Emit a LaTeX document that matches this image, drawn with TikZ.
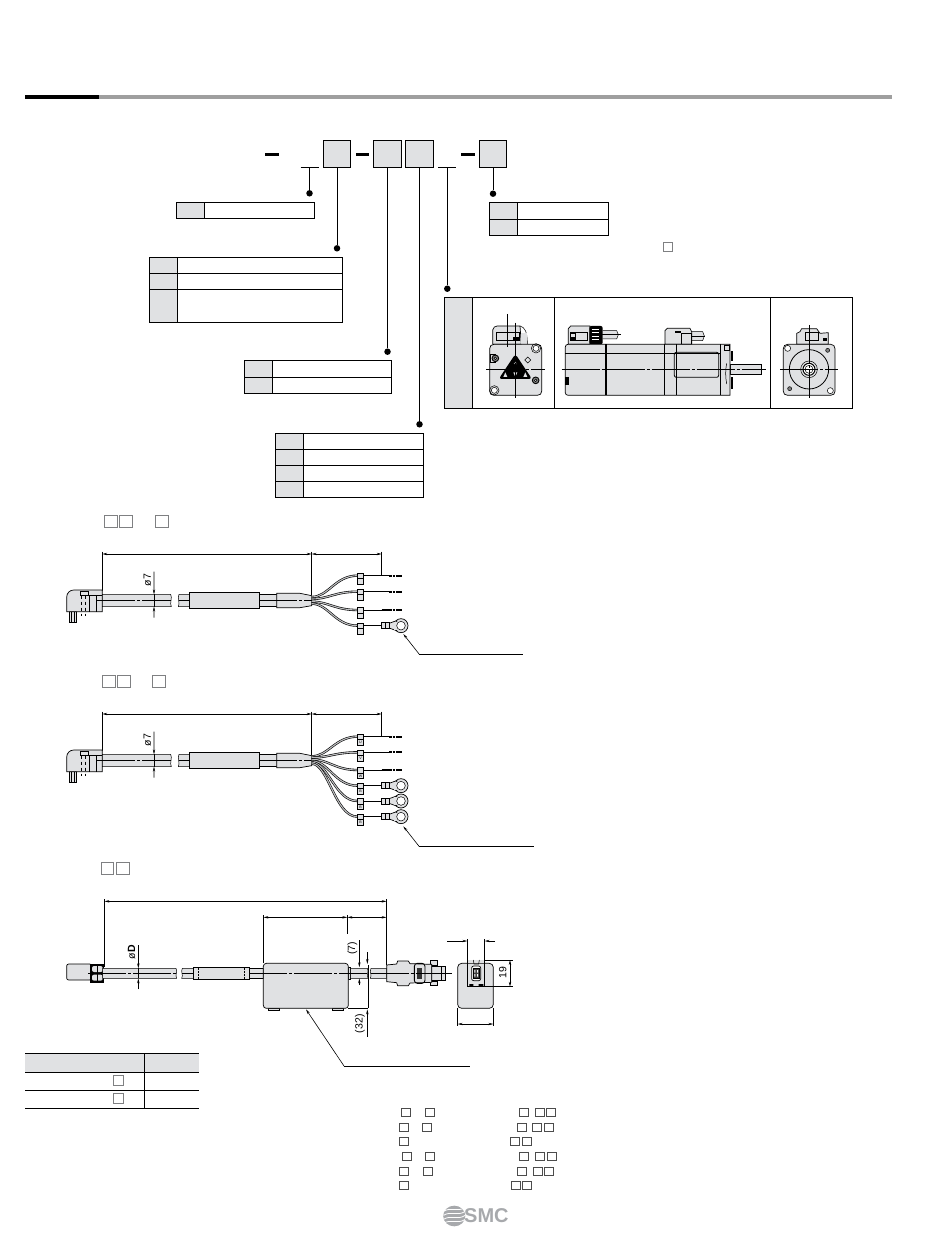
\documentclass[tikz,border=0pt]{standalone}
\usepackage{fontspec}
\setmainfont{Liberation Sans}
\usetikzlibrary{arrows.meta,positioning}
\definecolor{cellgray}{HTML}{E0E1E3}
\definecolor{boxgray}{HTML}{7F8082}
\definecolor{logogray}{HTML}{A7A9AC}
\tikzset{
  codebox/.style={draw,fill=cellgray,line width=.9pt,minimum size=27.5pt,inner sep=0pt,outer sep=0pt},
  dotnode/.style={circle,fill=black,minimum size=6.5pt,inner sep=0pt},
  stem/.style={line width=.9pt},
  rowline/.style={line width=.9pt},
  part/.style={fill=cellgray,draw,line width=.7pt},
  thinp/.style={line width=.5pt},
  centerl/.style={line width=.55pt,dash pattern=on 38pt off 2pt on 3pt off 2pt},
  dimline/.style={line width=.6pt,{Stealth[length=5pt,width=2.4pt]}-{Stealth[length=5pt,width=2.4pt]}},
  dimto/.style={line width=.6pt,-{Stealth[length=5pt,width=2.4pt]}},
  wirep/.style={draw=black,line width=.6pt,double=cellgray!85!black,double distance=1.1pt},
  tailp/.style={draw=black,line width=.9pt},
  openbox/.style={draw=boxgray,fill=white,line width=.7pt},
  dimtext/.style={font=\fontsize{10.5}{10.5}\selectfont,inner sep=0pt},
  taglabel/.style={font=\fontsize{3.6}{3.6}\selectfont,inner sep=0pt},
}
% table: left, column, right, list of row lines
\newcommand{\spectable}[4]{
  \foreach \r [count=\i] in {#4}{
    \ifnum\i=1 \xdef\ftop{\r}\fi
    \xdef\fbot{\r}
  }
  \fill[cellgray] (#1,\ftop) rectangle (#2,\fbot);
  \draw[rowline] (#1,\ftop) rectangle (#3,\fbot);
  \draw[rowline] (#2,\ftop) -- (#2,\fbot);
  \foreach \r in {#4} \draw[rowline] (#1,\r) -- (#3,\r);
}
\newcommand{\opensq}[3][9]{\draw[openbox] (#2,#3) rectangle ++(#1,#1);}
% cable with tag on a wire, coordinates of the 3x crops
\newcommand{\wiretag}[3]{
  \draw[wirep] (815,#1) .. controls (865,#1) and (885,#2) .. (952,#2);
  \draw[tailp] (970,#2) -- (1025,#2);
  \draw[part,thinp] (952,#2-7) rectangle (971,#2+26);
  \draw[thinp] (952,#2+9) -- (971,#2+9);
  \node[taglabel] (tag#2) at (961.5,#2+18) {#3};
}
\newcommand{\pinend}[1]{
  \draw[line width=1.3pt] (1025,#1) -- (1048,#1);
  \draw[line width=1.7pt,dash pattern=on 2.6pt off .7pt] (1048,#1) -- (1085,#1);
}
\newcommand{\ringend}[1]{
  \draw[part] (1083,#1) circle (21);
  \draw[part] (1047,#1-7) -- (1070,#1-15) -- (1070,#1+15) -- (1047,#1+7) -- cycle;
  \fill[cellgray] (1062,#1-12) rectangle (1076,#1+12);
  \draw[fill=white,thinp] (1083,#1) circle (13);
  \draw[part,thinp] (1025,#1-9) rectangle (1047,#1+9);
  \draw[thinp] (1036,#1-9) -- (1036,#1+9);
}
\newcommand{\leadcable}{
  \coordinate (ea) at (187,147);
  \coordinate (eb) at (815,147);
  \coordinate (ec) at (1025,147);
  \draw[dimline] (ea) -- (eb);
  \draw[dimline] (eb) -- (ec);
  \draw[thinp] (187,140) -- (187,258);
  \draw[thinp] (815,140) -- (815,270);
  \draw[thinp] (1025,140) -- (1025,212);
  % motor side plug
  \draw[part,thinp] (87,320) rectangle (110,352);
  \draw[thinp] (95,320) -- (95,352) (102,320) -- (102,352);
  \draw[part] (80,320) -- (80,277) .. controls (80,263) and (90,255) .. (102,255) -- (187,255) -- (187,320) -- cycle;
  \draw[thinp] (147,272) -- (147,320) (170,272) -- (170,320) (120,272) -- (187,272);
  \draw[thinp,dashed] (125,272) -- (125,332) (137,272) -- (137,332);
  \draw[part,thinp] (122,258) rectangle (146,272);
  % lead
  \draw[part,thinp] (187,268) -- (392,268) .. controls (398,278) and (388,295) .. (394,305) -- (187,305) -- cycle;
  \draw[part,thinp] (450,268) -- (417,268) .. controls (411,278) and (421,295) .. (415,305) -- (450,305) -- cycle;
  \draw[part,thinp] (658,268) rectangle (712,305);
  \draw[part] (448,262) rectangle (658,311);
  \draw[part] (710,265) -- (780,265) -- (815,272) -- (815,302) -- (780,308) -- (710,308) -- cycle;
  \draw[centerl] (172,287) -- (392,287) (417,287) -- (447,287) (658,287) -- (815,287);
  % phi 7
  \coordinate (da) at (342,268);
  \coordinate (db) at (342,305);
  \draw[dimto] (342,200) -- (da);
  \draw[dimto] (342,338) -- (db);
  \draw[thinp] (342,268) -- (342,305);
  \node[dimtext,rotate=90] (phiseven) at (322,225) {ø7};
}
\begin{document}
\begin{tikzpicture}[x=1pt,y=-1pt]
\useasboundingbox (0,0) rectangle (950,1241);
% title rule
\fill[black] (25,95) rectangle (99,99);
\fill[gray!75] (99,95) rectangle (892,99);
% model code
\node[codebox] (boxa) at (337,153.8) {};
\node[codebox] (boxb) at (387.5,153.8) {};
\node[codebox] (boxc) at (419.5,153.8) {};
\node[codebox] (boxd) at (493,153.8) {};
\foreach \xa/\xb in {265/278.7,355.7/369.3,461/475}
  \fill[black] (\xa,153) rectangle (\xb,155.8);
\coordinate (unda) at (309.5,167.3);
\coordinate (undb) at (447.3,167.3);
\draw[stem] (300.7,167.3) -- (319,167.3);
\draw[stem] (438,167.3) -- (456,167.3);
\node[dotnode] (dotu) at (309.5,193.3) {};
\node[dotnode] (dota) at (337,248.3) {};
\node[dotnode] (dotb) at (387.5,351.7) {};
\node[dotnode] (dotc) at (419.5,424.3) {};
\node[dotnode] (dotv) at (447.3,288.7) {};
\node[dotnode] (dotd) at (493,193.7) {};
\draw[stem] (unda) -- (dotu);
\draw[stem] (undb) -- (dotv);
\draw[stem] (boxa) -- (dota);
\draw[stem] (boxb) -- (dotb);
\draw[stem] (boxc) -- (dotc);
\draw[stem] (boxd) -- (dotd);
% option tables
\spectable{176.7}{204.3}{314.7}{202.3,218.3}
\spectable{149.3}{177.3}{342.3}{257.3,273.3,289.3,322.3}
\spectable{244.3}{272.3}{391.3}{360.3,377.3,393.3}
\spectable{275.3}{303.3}{423.3}{433.3,449.3,465.3,481.3,497.3}
\spectable{489.3}{517.3}{608.3}{202.3,219.3,235.3}
\opensq{663.3}{242.3}
% motor table
\fill[cellgray] (444.3,297.7) rectangle (472.7,408.3);
\draw[rowline] (444.3,297.7) rectangle (852.3,408.3);
\foreach \x in {472.7,554.3,770.3} \draw[rowline] (\x,297.7) -- (\x,408.3);
\begin{scope}[shift={(440,230)},scale=1/3]
  % rear view
  \draw[thinp] (240,288) .. controls (255,292) and (262,305) .. (262,343);
  \draw[part] (158,343) -- (158,300) .. controls (160,292) and (165,288) .. (172,288) -- (240,288) -- (244,343) -- cycle;
  \fill[cellgray] (244,310) rectangle (261,342);
  \draw[thinp] (168,308) rectangle (238,332);
  \fill[black] (220,322) rectangle (236,332);
  \draw[part] (149,356) .. controls (149,348) and (154,343) .. (162,343) -- (292,343) .. controls (300,343) and (305,348) .. (305,356) -- (305,484) .. controls (305,491) and (300,496) .. (292,496) -- (162,496) .. controls (154,496) and (149,491) .. (149,484) -- cycle;
  \fill[black,rounded corners=3pt] (226,372) -- (276,447) -- (176,447) -- cycle;
  \foreach \p in {(196,441),(256,441)}
    \fill[cellgray] \p ++(-6,0) -- ++(12,0) -- ++(-6,-14) -- cycle;
  \fill[cellgray] (226,427) ++(-6,0) -- ++(12,0) -- ++(-6,14) -- cycle;
  \draw[fill=cellgray,line width=.5pt] (226,400) circle (5);
  \draw[thinp] (263,381) -- ++(9,9) -- ++(-9,9) -- ++(-9,-9) -- cycle;
  \draw[thinp] (150,372) rectangle (166,398);
  \foreach \p in {(166,385),(287,451)} {
    \draw[line width=.9pt,fill=gray] \p circle (10);
    \draw[thinp,fill=cellgray] \p circle (4);
  }
  \foreach \p in {(288,355),(163,481)} {
    \draw[thinp,fill=white] \p circle (9);
    \draw[thinp] \p circle (14);
  }
  \draw[centerl] (138,418) -- (315,418);
  \draw[centerl] (226,278) -- (226,505);
  \draw[centerl] (202,252) -- (202,352);
  % side view
  \draw[part,thinp] (488,302) -- (530,302) -- (535,314) -- (530,327) -- (488,327);
  \draw[centerl] (470,314) -- (542,314);
  \draw[part] (385,343) -- (385,296) -- (392,288) -- (450,288) -- (450,343) -- cycle;
  \fill[black,rounded corners=2pt] (448,288) rectangle (488,343);
  \foreach \y in {298,308,318,328} \draw[white,thinp] (455,\y) -- (478,\y);
  \draw[thinp] (392,308) rectangle (442,332);
  \draw[thinp] (392,310) rectangle (406,330);
  \fill[black] (393,322) rectangle (405,330);
  \draw[part,thinp] (755,305) -- (788,305) -- (793,318) -- (788,332) -- (755,332);
  \draw[centerl] (735,318) -- (795,318);
  \draw[part] (675,343) -- (675,302) -- (682,295) -- (750,295) -- (755,305) -- (755,343) -- cycle;
  \fill[black] (706,303) rectangle (724,310);
  \draw[thinp] (725,310) rectangle (755,343);
  \draw[part,thinp] (870,403) rectangle (965,434);
  \draw[part] (384,343) -- (870,343) -- (870,496) -- (384,496) .. controls (379,496) and (376,492) .. (376,488) -- (376,351) .. controls (376,346) and (379,343) .. (384,343);
  \draw[thinp] (376,371) -- (842,371);
  \draw[line width=1.5pt] (498,343) -- (498,496);
  \draw[line width=.8pt] (673,343) -- (673,496) (709,343) -- (709,496) (842,343) -- (842,496);
  \draw[line width=.8pt,rounded corners=2pt] (703,367) rectangle (836,442);
  \draw[thinp] (860,400) .. controls (856,420) and (856,440) .. (860,462);
  \draw[thinp] (852,345) rectangle (868,362);
  \fill[black] (872,362) rectangle (878,392);
  \fill[black] (872,442) rectangle (878,478);
  \fill[black] (375,440) rectangle (387,465);
  \draw[centerl] (365,418) -- (978,418);
  % front view
  \draw[part] (1070,343) -- (1070,310) -- (1080,305) -- (1085,296) -- (1130,296) -- (1140,310) -- (1165,308) -- (1165,343) -- cycle;
  \draw[thinp] (1095,308) rectangle (1135,332);
  \fill[black] (1148,325) rectangle (1162,332);
  \draw[part] (1030,356) .. controls (1030,348) and (1035,343) .. (1043,343) -- (1172,343) .. controls (1180,343) and (1185,348) .. (1185,356) -- (1185,484) .. controls (1185,491) and (1180,496) .. (1172,496) -- (1043,496) .. controls (1035,496) and (1030,491) .. (1030,484) -- cycle;
  \draw[line width=.8pt] (1107,418) circle (59);
  \draw[thinp] (1107,418) circle (25);
  \draw[line width=1pt,fill=white] (1107,418) circle (18);
  \draw[thinp] (1107,418) circle (12);
  \foreach \p in {(1043,355),(1171,482)} \draw[thinp,fill=white] \p circle (9);
  \foreach \p in {(1163,361),(1049,476)} {
    \draw[thinp,fill=gray] \p circle (6);
  }
  \draw[centerl] (1020,418) -- (1195,418);
  \draw[centerl] (1108,285) -- (1108,505);
\end{scope}
% first lead
\begin{scope}[shift={(40,505)},scale=1/3]
  \foreach \s in {192,238,345} \draw[openbox] (\s,30) rectangle ++(39,38);
  \leadcable
  \wiretag{276}{212}{}\pinend{212}
  \wiretag{282}{260}{}\pinend{260}
  \wiretag{290}{315}{}\pinend{315}
  \wiretag{296}{362}{}\ringend{362}
  \coordinate (ringa) at (1090,387);
  \coordinate (benda) at (1138,448);
  \coordinate (enda) at (1450,448);
  \draw[dimto] (benda) -- (ringa);
  \draw[line width=.8pt] (benda) -- (enda);
\end{scope}
% second lead
\begin{scope}[shift={(40,665)},scale=1/3]
  \foreach \s in {187,233,338} \draw[openbox] (\s,32) rectangle ++(38,36);
  \leadcable
  \wiretag{274}{215}{U}\pinend{215}
  \wiretag{278}{262}{V}\pinend{262}
  \wiretag{283}{315}{W}\pinend{315}
  \wiretag{288}{362}{B}\ringend{362}
  \wiretag{292}{408}{B}\ringend{408}
  \wiretag{296}{455}{B}\ringend{455}
  \coordinate (ringb) at (1090,484);
  \coordinate (bendb) at (1138,545);
  \coordinate (endb) at (1482,545);
  \draw[dimto] (bendb) -- (ringb);
  \draw[line width=.8pt] (bendb) -- (endb);
\end{scope}
% encoder lead
\begin{scope}[shift={(40,860)},scale=1/3]
  \foreach \s in {183,229} \draw[openbox] (\s,8) rectangle ++(38,36);
  \coordinate (fa) at (193,124);
  \coordinate (fb) at (1040,124);
  \coordinate (fc) at (670,172);
  \coordinate (fd) at (922,172);
  \coordinate (fe) at (1040,172);
  \draw[dimline] (fa) -- (fb);
  \draw[dimline] (fc) -- (fd);
  \draw[dimline] (fd) -- (fe);
  \draw[thinp] (193,118) -- (193,320) (1040,118) -- (1040,315) (670,165) -- (670,310) (922,165) -- (922,222);
  % plug and lead
  \draw[part,rounded corners=2pt] (80,312) rectangle (155,360);
  \fill[black] (150,312) rectangle (192,369);
  \foreach \y in {318,344} \fill[cellgray,rounded corners=2pt] (156,\y) rectangle (188,\y+18);
  \draw[line width=1pt] (172,314) -- (172,367);
  \draw[part,thinp] (188,325) -- (408,325) .. controls (414,335) and (404,345) .. (410,355) -- (188,355) -- cycle;
  \draw[part,thinp] (460,325) -- (427,325) .. controls (421,335) and (431,345) .. (425,355) -- (460,355) -- cycle;
  \draw[part,thinp] (628,325) rectangle (670,355);
  \draw[part] (460,322) rectangle (628,358);
  \draw[thinp,dash pattern=on 2pt off 1pt] (475,323) -- (475,357) (612,323) -- (612,357);
  \foreach \x in {685,877} \draw[part,thinp] (\x,445) rectangle ++(33,7);
  \draw[part,thinp] (925,322) rectangle (932,358);
  \draw[part,thinp] (932,325) -- (982,325) .. controls (988,335) and (978,345) .. (984,355) -- (932,355) -- cycle;
  \draw[part,thinp] (1040,325) -- (993,325) .. controls (987,335) and (997,345) .. (991,355) -- (1040,355) -- cycle;
  \draw[part,rounded corners=3pt] (670,310) rectangle (925,445);
  % servo side connector
  \draw[part,thinp] (1173,318) rectangle (1217,362);
  \draw[thinp] (1203,318) -- (1203,362);
  \draw[part,thinp] (1170,302) rectangle (1193,315);
  \draw[part,thinp] (1170,365) rectangle (1193,377);
  \draw[part] (1040,315) -- (1070,312) -- (1073,303) -- (1105,303) -- (1110,311) -- (1175,313) -- (1175,367) -- (1110,369) -- (1105,377) -- (1073,377) -- (1070,368) -- (1040,365) -- cycle;
  \draw[line width=.9pt,rounded corners=3pt] (1123,310) rectangle (1155,370);
  \fill[black!80] (1131,323) rectangle (1147,357);
  \draw[centerl] (145,340) -- (408,340) (427,340) -- (460,340) (628,340) -- (982,340) (992,340) -- (1237,340);
  % phi D
  \draw[dimto] (295,255) -- (295,325);
  \draw[dimto] (295,388) -- (295,355);
  \draw[thinp] (295,325) -- (295,355);
  \node[dimtext,rotate=90,font=\fontsize{10.5}{10.5}\selectfont\bfseries] (phid) at (275,277) {{\mdseries ø}D};
  % brake box dimensions
  \draw[dimto] (958,240) -- (958,322);
  \draw[dimto] (958,375) -- (958,355);
  \draw[dimto] (982,277) -- (982,312);
  \draw[thinp] (985,315) -- (985,445) (925,445) -- (985,445);
  \draw[dimto] (982,530) -- (982,448);
  \node[dimtext,rotate=90] (dimseven) at (937,265) {(7)};
  \node[dimtext,rotate=90] (dimtwo) at (960,491) {(32)};
  % end view
  \draw[part,rounded corners=4pt] (1253,310) rectangle (1360,445);
  \draw[line width=.8pt] (1282,300) rectangle (1334,380);
  \fill[cellgray] (1283,301) rectangle (1333,309);
  \draw[fill=white,line width=.7pt,rounded corners=2pt] (1295,318) rectangle (1322,362);
  \draw[fill=black!75,thinp] (1299,325) rectangle (1318,355);
  \foreach \y in {330,342} \fill[white] (1303,\y) rectangle (1306,\y+8) (1311,\y) rectangle (1314,\y+8);
  \draw[thinp] (1300,300) -- (1302,312) -- (1316,312) -- (1318,300);
  \fill[black] (1288,372) rectangle (1300,379) (1316,372) rectangle (1330,379);
  \draw[dimto] (1222,243) -- (1282,243);
  \draw[dimto] (1365,243) -- (1334,243);
  \draw[thinp] (1282,238) -- (1282,300) (1334,238) -- (1334,300);
  \draw[thinp] (1334,300) -- (1418,300) (1334,380) -- (1418,380);
  \draw[dimline] (1410,300) -- (1410,380);
  \node[dimtext,rotate=90] (dimnineteen) at (1388,338) {19};
  \draw[dimline] (1253,492) -- (1360,492);
  \draw[thinp] (1253,445) -- (1253,497) (1360,445) -- (1360,497);
  % leader
  \coordinate (boxtip) at (798,448);
  \coordinate (bendc) at (912,618);
  \coordinate (endc) at (1290,618);
  \draw[dimto] (bendc) -- (boxtip);
  \draw[line width=.8pt] (bendc) -- (endc);
\end{scope}
% bottom table and squares
\begin{scope}[shift={(20,1040)},xscale=1/2.8,yscale=1/3]
  \fill[cellgray] (14,41) rectangle (502,97);
  \foreach \y in {41,97,151,205} \draw[rowline] (14,\y) -- (502,\y);
  \draw[rowline] (348,41) -- (348,205);
  \draw[openbox] (260,107) rectangle ++(28,30);
  \draw[openbox] (261,160) rectangle ++(29,30);
  \foreach \y/\xs in {218/{1081,1147,1411,1455,1487},262/{1074,1140,1405,1448,1481},305/{1074,1386,1418},350/{1082,1148,1411,1456,1488},394/{1076,1142,1406,1449,1482},437/{1076,1388,1420}}
    \foreach \x in \xs \draw[openbox,draw=black!70] (\x-12.5,\y-12.5) rectangle ++(25,25);
  % logo
  \fill[logogray] (1216,528) circle (31);
  \foreach \y in {508,520,532,544}
    \draw[white,line width=.8pt] (1186,\y+6) .. controls (1205,\y-8) and (1225,\y+10) .. (1247,\y-6);
  \node[text=logogray,font=\fontsize{20}{20}\selectfont\bfseries,inner sep=0pt] (smclogo) at (1306,528) {SMC};
\end{scope}
\end{tikzpicture}
\end{document}
